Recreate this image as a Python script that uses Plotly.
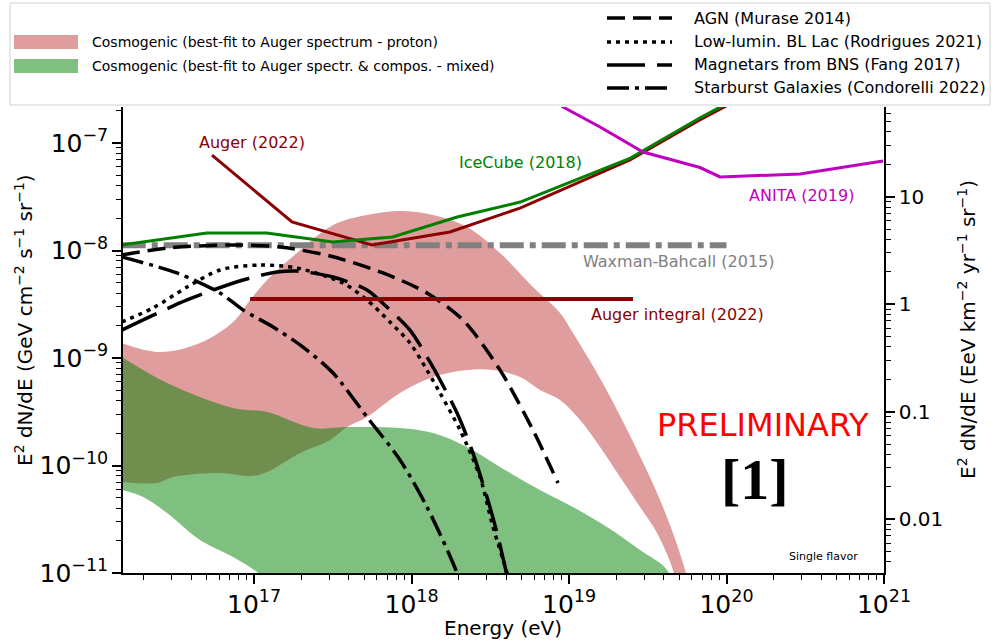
import math
import plotly.graph_objects as go

FONT = "DejaVu Sans"

# ------------------------------------------------------------------
# Data.
# Energies as log10(E / eV); fluxes as log10(E^2 dN/dE / GeV cm^-2 s^-1 sr^-1)
# ------------------------------------------------------------------
proton_hi_logE = [16.16, 16.403, 16.657, 16.867, 16.975, 17.083, 17.273, 17.502, 17.717, 17.927,
                  18.137, 18.352, 18.562, 18.771, 18.943, 19.025, 19.178, 19.305, 19.432, 19.559,
                  19.660, 19.737, 19.768]
proton_hi_logF = [-8.860, -8.944, -8.860, -8.665, -8.460, -8.274, -8.023, -7.763, -7.670, -7.633,
                  -7.670, -7.781, -8.023, -8.340, -8.581, -8.767, -9.140, -9.484, -9.856, -10.256,
                  -10.628, -10.972, -11.16]
proton_lo_logE = [16.16, 16.384, 16.486, 16.784, 16.975, 17.083, 17.292, 17.483, 17.590, 17.717,
                  17.927, 18.137, 18.352, 18.517, 18.689, 18.816, 18.943, 19.070, 19.197, 19.324,
                  19.451, 19.559, 19.660, 19.686]
proton_lo_logF = [-10.153, -10.163, -10.107, -10.070, -10.098, -10.060, -9.884, -9.763, -9.642, -9.549,
                  -9.326, -9.177, -9.112, -9.112, -9.177, -9.298, -9.391, -9.577, -9.828, -10.107,
                  -10.386, -10.628, -10.972, -11.16]

mixed_hi_logE = [16.16, 16.448, 16.867, 17.083, 17.375, 17.590, 17.927, 18.137, 18.352, 18.562,
                 18.816, 19.025, 19.241, 19.451, 19.622, 19.654]
mixed_hi_logF = [-8.991, -9.233, -9.465, -9.502, -9.651, -9.642, -9.651, -9.698, -9.828, -10.014,
                 -10.228, -10.386, -10.572, -10.786, -10.972, -11.16]
mixed_lo_logE = [16.16, 16.295, 16.448, 16.657, 16.867, 17.019, 17.229]
mixed_lo_logF = [-10.228, -10.293, -10.442, -10.693, -10.851, -10.991, -11.25]

agn_logE = [16.16, 16.448, 16.848, 17.165, 17.483, 17.819, 18.098, 18.327, 18.562, 18.771, 18.930]
agn_logF = [-8.042, -7.977, -7.949, -7.967, -8.051, -8.209, -8.395, -8.647, -9.112, -9.670, -10.163]

bllac_logE = [16.16, 16.359, 16.575, 16.784, 17.038, 17.273, 17.565, 17.717, 17.863, 17.990,
              18.098, 18.181, 18.308, 18.435, 18.517, 18.606, 18.640]
bllac_logF = [-8.665, -8.535, -8.340, -8.181, -8.135, -8.163, -8.302, -8.460, -8.665, -8.860,
              -9.112, -9.326, -9.670, -10.107, -10.572, -11.0, -11.25]

magnetar_logE = [16.16, 16.575, 16.930, 17.146, 17.273, 17.502, 17.717, 17.863, 17.990, 18.117,
                 18.289, 18.390, 18.479, 18.543, 18.594, 18.625]
magnetar_logF = [-8.740, -8.460, -8.274, -8.200, -8.191, -8.247, -8.367, -8.553, -8.740, -9.037,
                 -9.512, -9.884, -10.293, -10.628, -10.944, -11.16]

starburst_logE = [16.16, 16.511, 16.784, 16.930, 17.121, 17.311, 17.502, 17.717, 17.927, 18.098,
                  18.289, 18.340]
starburst_logF = [-8.060, -8.209, -8.395, -8.553, -8.712, -8.898, -9.140, -9.549, -9.949, -10.386,
                  -11.0, -11.25]

wb_logE = [16.16, 20.0]
wb_logF = [-7.950, -7.950]

auger_int_logE = [16.975, 19.406]
auger_int_logF = [-8.451, -8.451]

auger_logE = [16.733, 17.241, 17.749, 18.244, 18.689, 19.387, 19.830, 20.300]
auger_logF = [-7.112, -7.735, -7.949, -7.828, -7.605, -7.158, -6.786, -6.420]

icecube_logE = [16.16, 16.70, 17.08, 17.50, 17.88, 18.29, 18.69, 19.39, 19.83, 20.30]
icecube_logF = [-7.949, -7.837, -7.837, -7.921, -7.874, -7.688, -7.549, -7.140, -6.767, -6.400]

anita_logE = [18.845, 18.962, 19.197, 19.470, 19.832, 19.959, 20.467, 20.994]
anita_logF = [-6.538, -6.665, -6.851, -7.084, -7.228, -7.316, -7.288, -7.167]

# axis extents (log10) and unit conversion GeV cm^-2 s^-1 -> EeV km^-2 yr^-1
X_RANGE = [16.168, 21.0]
Y_RANGE = [-11.0, -6.665]
UNIT_FACTOR = 3.156e8

legend_fill_labels = ["Cosmogenic (best-fit to Auger spectrum - proton)",
                      "Cosmogenic (best-fit to Auger spectr. & compos. - mixed)"]
legend_line_labels = ["AGN (Murase 2014)", "Low-lumin. BL Lac (Rodrigues 2021)",
                      "Magnetars from BNS (Fang 2017)", "Starburst Galaxies (Condorelli 2022)"]


def lin(v):
    return [10 ** x for x in v]


PINK = "rgba(193,59,59,0.5)"
GREEN = "rgba(0,128,0,0.5)"
DARKRED = "#8b0000"
ICEGREEN = "#007f00"
MAGENTA = "#c000c0"
GREY = "#808080"

DASH_AGN = "18px,8px"
DASH_BLLAC = "4px,5px"
DASH_MAG = "38px,12px"
DASH_SB = "22px,6px,4px,6px"

fig = go.Figure()

# bands
fig.add_trace(go.Scatter(
    x=lin(proton_hi_logE + proton_lo_logE[::-1]),
    y=lin(proton_hi_logF + proton_lo_logF[::-1]),
    fill="toself", fillcolor=PINK, line=dict(width=0, shape="spline", smoothing=1.0), mode="lines",
    name=legend_fill_labels[0], showlegend=False, hoverinfo="skip"))
fig.add_trace(go.Scatter(
    x=lin(mixed_hi_logE + mixed_lo_logE[::-1]),
    y=lin(mixed_hi_logF + mixed_lo_logF[::-1]),
    fill="toself", fillcolor=GREEN, line=dict(width=0, shape="spline", smoothing=1.0), mode="lines",
    name=legend_fill_labels[1], showlegend=False, hoverinfo="skip"))

# Waxman-Bahcall
fig.add_trace(go.Scatter(x=lin(wb_logE), y=lin(wb_logF), mode="lines",
                         line=dict(color=GREY, width=6, dash="24px,6px,6px,6px"),
                         showlegend=False, name="Waxman-Bahcall (2015)"))

# models
for lx, ly, dash, nm in [(agn_logE, agn_logF, DASH_AGN, legend_line_labels[0]),
                         (bllac_logE, bllac_logF, DASH_BLLAC, legend_line_labels[1]),
                         (magnetar_logE, magnetar_logF, DASH_MAG, legend_line_labels[2]),
                         (starburst_logE, starburst_logF, DASH_SB, legend_line_labels[3])]:
    fig.add_trace(go.Scatter(x=lin(lx), y=lin(ly), mode="lines",
                             line=dict(color="black", width=3.5, dash=dash, shape="spline",
                                       smoothing=0.8),
                             showlegend=False, name=nm))

# limits
fig.add_trace(go.Scatter(x=lin(auger_int_logE), y=lin(auger_int_logF), mode="lines",
                         line=dict(color=DARKRED, width=4), showlegend=False,
                         name="Auger integral (2022)"))
fig.add_trace(go.Scatter(x=lin(auger_logE), y=lin(auger_logF), mode="lines",
                         line=dict(color=DARKRED, width=3), showlegend=False, name="Auger (2022)"))
fig.add_trace(go.Scatter(x=lin(icecube_logE), y=lin(icecube_logF), mode="lines",
                         line=dict(color=ICEGREEN, width=3), showlegend=False, name="IceCube (2018)"))
fig.add_trace(go.Scatter(x=lin(anita_logE), y=lin(anita_logF), mode="lines",
                         line=dict(color=MAGENTA, width=3), showlegend=False, name="ANITA (2019)"))

# invisible trace in the right-hand units so the secondary axis is drawn
fig.add_trace(go.Scatter(x=lin(wb_logE), y=[10 ** v * UNIT_FACTOR for v in wb_logF],
                         yaxis="y2", mode="lines", line=dict(width=0, color="rgba(0,0,0,0)"),
                         showlegend=False, hoverinfo="skip"))

# ------------------------------------------------------------------
# layout helpers (pixel -> paper)
L, R, T, B = 123, 884, 107, 573


def px(x):
    return (x - L) / (R - L)


def py(y):
    return (B - y) / (B - T)


shift = math.log10(UNIT_FACTOR)
axis_common = dict(type="log", dtick=1, showgrid=False, zeroline=False, showline=True,
                   linecolor="black", linewidth=1.5, ticks="outside", ticklen=9, tickwidth=1.5,
                   tickcolor="black", tickfont=dict(family=FONT, size=20, color="black"),
                   minor=dict(ticks="outside", ticklen=5, tickwidth=1, tickcolor="black",
                              dtick="D1", showgrid=False))

fig.update_layout(
    width=992, height=640,
    margin=dict(l=L, r=992 - R, t=T, b=640 - B, autoexpand=False),
    paper_bgcolor="white", plot_bgcolor="white",
    showlegend=False,
    font=dict(family=FONT, color="black"),
    xaxis=dict(range=X_RANGE, exponentformat="power", **axis_common),
    yaxis=dict(range=Y_RANGE, exponentformat="power", **axis_common),
    yaxis2=dict(range=[Y_RANGE[0] + shift, Y_RANGE[1] + shift], overlaying="y", side="right",
                exponentformat="none", **axis_common),
)

annotations = []


def label(text, x, y, color, size=16, family=FONT, **kw):
    annotations.append(dict(text=text, x=x, y=y, xref="x", yref="y", showarrow=False,
                            font=dict(family=family, size=size, color=color),
                            xanchor="center", yanchor="middle", **kw))


label("Auger (2022)", 16.987, -6.991, DARKRED)
label("IceCube (2018)", 18.689, -7.177, ICEGREEN)
label("ANITA (2019)", 20.473, -7.484, MAGENTA)
label("Waxman-Bahcall (2015)", 19.698, -8.098, GREY)
label("Auger integral (2022)", 19.686, -8.591, DARKRED)
label("PRELIMINARY", 20.232, -9.623, "red", size=32)
label("<b>[1]</b>", 20.181, -10.126, "black", size=58, family="Liberation Serif")
label("Single flavor", 20.613, -10.851, "black", size=11)

# axis titles
annotations.append(dict(text="Energy (eV)", x=px(503), y=py(628), xref="paper", yref="paper",
                        showarrow=False, font=dict(family=FONT, size=20),
                        xanchor="center", yanchor="middle"))
annotations.append(dict(text="E<sup>2</sup> dN/dE (GeV cm<sup>\u22122</sup> s<sup>\u22121</sup> sr<sup>\u22121</sup>)",
                        x=px(24), y=py(320), xref="paper", yref="paper", textangle=-90,
                        showarrow=False, font=dict(family=FONT, size=20),
                        xanchor="center", yanchor="middle"))
annotations.append(dict(text="E<sup>2</sup> dN/dE (EeV km<sup>\u22122</sup> yr<sup>\u22121</sup> sr<sup>\u22121</sup>)",
                        x=px(967), y=py(330), xref="paper", yref="paper", textangle=-90,
                        showarrow=False, font=dict(family=FONT, size=20),
                        xanchor="center", yanchor="middle"))

# manual legend
shapes = [dict(type="rect", xref="paper", yref="paper", x0=px(10), x1=px(990), y0=py(105), y1=py(3),
               line=dict(color="#d0d0d0", width=1), fillcolor="white", layer="above")]
for i, (col, yc) in enumerate([(PINK, 42), (GREEN, 66)]):
    shapes.append(dict(type="rect", xref="paper", yref="paper", x0=px(14), x1=px(78),
                       y0=py(yc + 7), y1=py(yc - 7), line=dict(width=0), fillcolor=col, layer="above"))
    annotations.append(dict(text=legend_fill_labels[i], x=px(90), y=py(yc), xref="paper", yref="paper",
                            showarrow=False, xanchor="left", yanchor="middle",
                            font=dict(family=FONT, size=14, color="black")))
for i, (dash, yc) in enumerate([(DASH_AGN, 18), (DASH_BLLAC, 42), (DASH_MAG, 65), (DASH_SB, 88)]):
    shapes.append(dict(type="line", xref="paper", yref="paper", x0=px(607), x1=px(672),
                       y0=py(yc), y1=py(yc), line=dict(color="black", width=3.5, dash=dash),
                       layer="above"))
    annotations.append(dict(text=legend_line_labels[i], x=px(692), y=py(yc), xref="paper", yref="paper",
                            showarrow=False, xanchor="left", yanchor="middle",
                            font=dict(family=FONT, size=16, color="black")))

fig.update_layout(annotations=annotations, shapes=shapes)

fig.write_html("out.html", config={"displayModeBar": False},
               post_script="document.body.style.margin='0px';")
